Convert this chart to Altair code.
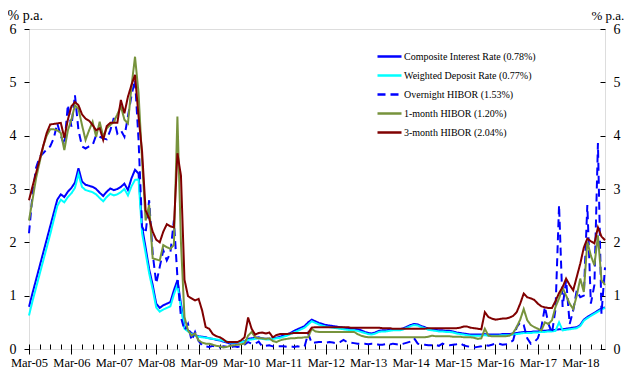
import altair as alt
import pandas as pd

names = ["Composite Interest Rate (0.78%)", "Weighted Deposit Rate (0.77%)",
         "Overnight HIBOR (1.53%)", "1-month HIBOR (1.20%)", "3-month HIBOR (2.04%)"]
colors = ["#0000FF", "#00FFFF", "#0000FF", "#77933C", "#800000"]
dashes = [[1, 0], [1, 0], [8, 5], [1, 0], [1, 0]]

year_labels = ["Mar-05", "Mar-06", "Mar-07", "Mar-08", "Mar-09", "Mar-10", "Mar-11",
               "Mar-12", "Mar-13", "Mar-14", "Mar-15", "Mar-16", "Mar-17", "Mar-18"]

# monthly values, Mar-05 .. Oct-18
comp = [0.79, 1.05, 1.30, 1.55, 1.80, 2.05, 2.30, 2.55, 2.80, 2.90, 2.85, 2.95,
        3.02, 3.12, 3.39, 3.14, 3.08, 3.06, 3.04, 3.00, 2.93, 2.87, 2.95, 3.01,
        2.98, 3.00, 3.04, 3.10, 2.98, 3.20, 3.36, 3.29, 2.29, 1.90, 1.50, 1.20,
        0.85, 0.77, 0.82, 0.85, 0.88, 1.10, 1.29, 0.85, 0.41, 0.35, 0.30, 0.26,
        0.24, 0.23, 0.22, 0.20, 0.19, 0.17, 0.16, 0.14, 0.12, 0.10, 0.11, 0.12,
        0.13, 0.15, 0.19, 0.20, 0.21, 0.22, 0.20, 0.19, 0.19, 0.20, 0.21, 0.23,
        0.25, 0.27, 0.30, 0.34, 0.37, 0.40, 0.43, 0.50, 0.55, 0.52, 0.49, 0.47,
        0.45, 0.44, 0.43, 0.42, 0.41, 0.40, 0.39, 0.38, 0.38, 0.37, 0.35, 0.32,
        0.30, 0.29, 0.31, 0.34, 0.35, 0.35, 0.36, 0.37, 0.37, 0.37, 0.39, 0.42,
        0.45, 0.47, 0.46, 0.43, 0.41, 0.38, 0.37, 0.36, 0.35, 0.35, 0.34, 0.34,
        0.33, 0.31, 0.30, 0.29, 0.28, 0.27, 0.27, 0.27, 0.27, 0.28, 0.27, 0.27,
        0.27, 0.27, 0.28, 0.28, 0.28, 0.29, 0.30, 0.31, 0.32, 0.32, 0.32, 0.33,
        0.33, 0.34, 0.34, 0.35, 0.35, 0.36, 0.37, 0.37, 0.38, 0.39, 0.40, 0.41,
        0.45, 0.55, 0.60, 0.64, 0.68, 0.72, 0.76, 0.78]

wdr = [0.63, 0.90, 1.15, 1.40, 1.65, 1.90, 2.15, 2.42, 2.68, 2.80, 2.75, 2.85,
       2.92, 3.02, 3.28, 3.04, 2.98, 2.96, 2.94, 2.90, 2.83, 2.77, 2.85, 2.91,
       2.88, 2.90, 2.94, 3.00, 2.88, 3.05, 3.17, 3.18, 2.17, 1.80, 1.42, 1.12,
       0.78, 0.70, 0.74, 0.77, 0.80, 1.02, 1.20, 0.78, 0.38, 0.33, 0.28, 0.25,
       0.23, 0.22, 0.21, 0.20, 0.19, 0.18, 0.17, 0.15, 0.14, 0.12, 0.12, 0.13,
       0.13, 0.14, 0.17, 0.18, 0.19, 0.20, 0.19, 0.18, 0.18, 0.19, 0.20, 0.21,
       0.23, 0.25, 0.28, 0.31, 0.34, 0.37, 0.40, 0.46, 0.52, 0.49, 0.46, 0.44,
       0.42, 0.41, 0.40, 0.39, 0.38, 0.37, 0.36, 0.35, 0.35, 0.34, 0.32, 0.30,
       0.28, 0.27, 0.29, 0.32, 0.33, 0.33, 0.34, 0.35, 0.35, 0.35, 0.37, 0.40,
       0.43, 0.45, 0.44, 0.41, 0.39, 0.36, 0.35, 0.34, 0.33, 0.33, 0.32, 0.32,
       0.31, 0.29, 0.28, 0.27, 0.26, 0.25, 0.25, 0.25, 0.25, 0.26, 0.25, 0.25,
       0.25, 0.25, 0.26, 0.26, 0.26, 0.27, 0.28, 0.29, 0.30, 0.30, 0.30, 0.31,
       0.31, 0.32, 0.32, 0.33, 0.33, 0.34, 0.50, 0.35, 0.36, 0.37, 0.38, 0.39,
       0.43, 0.53, 0.58, 0.62, 0.66, 0.70, 0.74, 0.77]

overnight = [2.17, 2.90, 3.40, 3.60, 3.67, 3.74, 3.80, 3.95, 4.23, 4.00, 3.82, 4.58,
             4.17, 4.76, 4.10, 3.80, 3.76, 3.80, 3.82, 4.01, 3.98, 3.95, 3.93, 4.10,
             4.33, 4.04, 4.10, 3.98, 4.36, 4.75, 5.05, 3.92, 2.29, 2.17, 2.79, 1.79,
             1.23, 1.54, 1.85, 1.66, 1.80, 2.41, 1.35, 0.60, 0.35, 0.47, 0.16, 0.32,
             0.15, 0.07, 0.05, 0.04, 0.06, 0.04, 0.03, 0.05, 0.04, 0.03, 0.05, 0.04,
             0.05, 0.08, 0.13, 0.10, 0.10, 0.14, 0.05, 0.06, 0.07, 0.05, 0.05, 0.05,
             0.05, 0.04, 0.05, 0.04, 0.05, 0.04, 0.05, 0.29, 0.11, 0.12, 0.13, 0.13,
             0.12, 0.13, 0.12, 0.11, 0.13, 0.17, 0.13, 0.12, 0.11, 0.10, 0.10, 0.10,
             0.09, 0.10, 0.10, 0.08, 0.08, 0.09, 0.08, 0.10, 0.09, 0.08, 0.10, 0.12,
             0.14, 0.20, 0.10, 0.09, 0.08, 0.07, 0.07, 0.08, 0.06, 0.10, 0.08, 0.07,
             0.08, 0.09, 0.11, 0.07, 0.05, 0.04, 0.03, 0.04, 0.05, 0.08, 0.06, 0.08,
             0.10, 0.10, 0.08, 0.09, 0.12, 0.16, 0.41, 0.50, 0.45, 0.20, 0.10, 0.13,
             0.20, 0.41, 0.79, 0.47, 0.30, 0.75, 2.70, 0.79, 1.29, 0.47, 0.72, 1.10,
             0.97, 1.00, 2.70, 0.85, 1.20, 3.86, 0.66, 1.53]

hibor1m = [2.41, 2.80, 3.20, 3.50, 3.80, 4.00, 4.12, 4.12, 4.10, 4.05, 3.73, 4.10,
           4.30, 4.57, 4.50, 4.20, 3.92, 4.10, 4.26, 3.98, 4.26, 3.98, 4.14, 4.20,
           4.26, 4.40, 4.55, 4.30, 4.23, 4.92, 5.48, 4.80, 3.54, 2.41, 2.70, 1.70,
           1.68, 1.66, 1.95, 1.91, 1.88, 1.95, 4.36, 2.00, 0.60, 0.35, 0.25, 0.29,
           0.16, 0.12, 0.10, 0.10, 0.08, 0.06, 0.05, 0.03, 0.04, 0.06, 0.07, 0.08,
           0.09, 0.10, 0.25, 0.32, 0.22, 0.20, 0.20, 0.19, 0.20, 0.15, 0.13, 0.16,
           0.18, 0.19, 0.20, 0.20, 0.21, 0.21, 0.22, 0.22, 0.38, 0.33, 0.32, 0.32,
           0.32, 0.32, 0.32, 0.32, 0.32, 0.32, 0.32, 0.32, 0.32, 0.28, 0.25, 0.23,
           0.22, 0.22, 0.22, 0.22, 0.22, 0.22, 0.22, 0.22, 0.22, 0.22, 0.22, 0.22,
           0.22, 0.22, 0.22, 0.22, 0.22, 0.23, 0.25, 0.24, 0.24, 0.24, 0.24, 0.24,
           0.23, 0.23, 0.23, 0.22, 0.22, 0.22, 0.21, 0.19, 0.20, 0.38, 0.25, 0.24,
           0.24, 0.24, 0.24, 0.24, 0.25, 0.30, 0.41, 0.55, 0.75, 0.54, 0.45, 0.41,
           0.38, 0.35, 0.50, 0.47, 0.54, 0.79, 0.95, 1.15, 1.00, 0.85, 0.75, 1.00,
           1.32, 1.07, 2.01, 1.75, 1.57, 2.13, 1.29, 1.20]

hibor3m = [2.79, 3.05, 3.30, 3.55, 3.80, 4.05, 4.21, 4.22, 4.23, 4.24, 3.96, 4.30,
           4.55, 4.63, 4.57, 4.40, 4.32, 4.28, 4.20, 4.10, 4.14, 3.92, 4.18, 4.24,
           4.24, 4.24, 4.67, 4.42, 4.73, 4.95, 5.14, 4.36, 3.70, 2.60, 2.45, 2.20,
           2.05, 2.00, 2.20, 2.34, 2.30, 2.28, 3.67, 3.25, 1.30, 0.99, 0.95, 0.91,
           0.94, 0.72, 0.41, 0.38, 0.28, 0.24, 0.22, 0.18, 0.13, 0.13, 0.13, 0.13,
           0.16, 0.22, 0.59, 0.38, 0.27, 0.30, 0.31, 0.29, 0.31, 0.22, 0.26, 0.28,
           0.28, 0.28, 0.29, 0.30, 0.30, 0.30, 0.30, 0.30, 0.40, 0.41, 0.41, 0.41,
           0.41, 0.41, 0.41, 0.41, 0.41, 0.41, 0.41, 0.40, 0.40, 0.40, 0.40, 0.40,
           0.40, 0.40, 0.40, 0.40, 0.39, 0.39, 0.39, 0.38, 0.38, 0.38, 0.38, 0.38,
           0.38, 0.38, 0.38, 0.38, 0.38, 0.39, 0.39, 0.39, 0.39, 0.39, 0.39, 0.39,
           0.39, 0.39, 0.40, 0.42, 0.42, 0.40, 0.39, 0.38, 0.37, 0.69, 0.60, 0.57,
           0.55, 0.56, 0.57, 0.57, 0.59, 0.62, 0.69, 0.85, 1.04, 0.97, 0.95, 0.92,
           0.85, 0.80, 0.78, 0.77, 0.77, 0.90, 1.05, 1.16, 1.32, 1.20, 1.10, 1.35,
           1.60, 1.90, 2.07, 2.02, 1.98, 2.28, 2.11, 2.04]

series = [comp, wdr, overnight, hibor1m, hibor3m]
rows = []
for k, (name, vals) in enumerate(zip(names, series)):
    for i, v in enumerate(vals):
        rows.append({"t": i, "v": v, "s": name, "k": k})
df = pd.DataFrame(rows)

n_last = len(comp) - 1
FONT = "Times New Roman, Liberation Serif, DejaVu Serif, serif"
label_expr = "datum.value % 12 == 0 ? " + str(year_labels) + "[datum.value / 12] : ''"

x_scale = alt.Scale(domain=[0, n_last], nice=False, zero=False)
y_scale = alt.Scale(domain=[0, 6], nice=False)

x_axis = alt.Axis(values=list(range(0, n_last + 1, 3)), labelExpr=label_expr,
                  orient="bottom", offset=-5, domain=False, grid=False, title=None,
                  tickSize={"condition": {"test": "datum.value % 12 == 0", "value": 10}, "value": 5},
                  tickColor="black", labelPadding=2, labelFont=FONT, labelFontSize=12.5,
                  labelColor="black", labelOverlap=False, labelFlush=False)

y_left = alt.Axis(values=[0, 1, 2, 3, 4, 5, 6], orient="left", domain=False, grid=False,
                  tickSize=5, tickColor="black", labelPadding=8, labelFont=FONT,
                  labelFontSize=14, labelColor="black",
                  title="% p.a.", titleAngle=0, titleX=-22, titleY=-10,
                  titleAlign="left", titleBaseline="alphabetic", titleFont=FONT,
                  titleFontSize=14, titleFontWeight="normal", titleColor="black")

y_right = alt.Axis(values=[0, 1, 2, 3, 4, 5, 6], orient="right", offset=-5, domain=False,
                   grid=False, tickSize=5, tickColor="black", labelPadding=8,
                   labelFont=FONT, labelFontSize=14, labelColor="black",
                   title="% p.a.", titleAngle=0, titleX=-9, titleY=-10,
                   titleAlign="left", titleBaseline="alphabetic", titleFont=FONT,
                   titleFontSize=13, titleFontWeight="normal", titleColor="black")

legend = alt.Legend(orient="none", legendX=347, legendY=14, title=None,
                    symbolType="stroke", symbolSize=576, symbolStrokeWidth=2.5,
                    labelFont=FONT, labelFontSize=10, labelColor="black",
                    rowPadding=-4, labelOffset=1)

lines = alt.Chart(df).mark_line(strokeWidth=2).encode(
    x=alt.X("t:Q", scale=x_scale, axis=x_axis),
    y=alt.Y("v:Q", scale=y_scale, axis=y_left),
    color=alt.Color("s:N", scale=alt.Scale(domain=names, range=colors), legend=legend),
    strokeDash=alt.StrokeDash("s:N", scale=alt.Scale(domain=names, range=dashes), legend=legend),
    order=alt.Order("k:Q"),
    detail="s:N",
)

right = alt.Chart(df).mark_point(opacity=0).encode(
    x=alt.X("t:Q", scale=x_scale, axis=x_axis),
    y=alt.Y("v:Q", scale=y_scale, axis=y_right),
)

chart = alt.layer(lines, right).resolve_axis(y="independent").properties(
    width=576, height=320,
    padding={"left": 21, "top": 21, "right": 19, "bottom": 19},
    autosize=alt.AutoSizeParams(type="none"),
).configure_view(stroke="black", strokeWidth=1).configure(background="white")

chart.save("out.html", embed_options={"renderer": "svg", "actions": False})
